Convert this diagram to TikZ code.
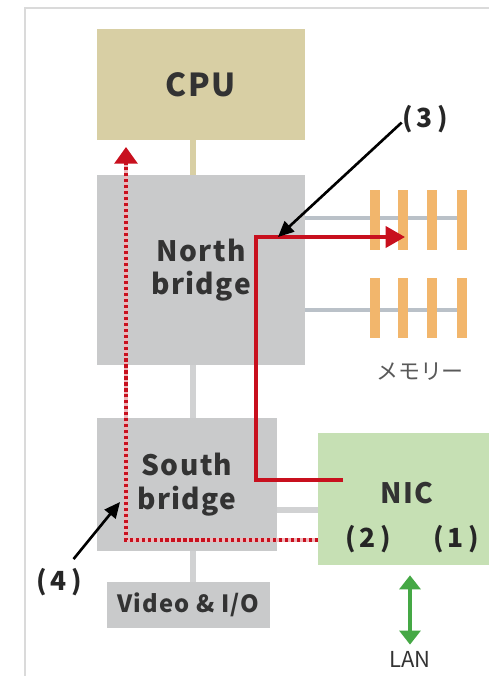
\documentclass[tikz,border=0pt]{standalone}
\usepackage{fontspec}
\setmainfont{Noto Sans CJK JP}
\newfontfamily\chipfont{Noto Sans CJK JP}[LetterSpace=5]
\usetikzlibrary{arrows.meta, positioning}

\definecolor{cputan}{HTML}{D8CFA4}
\definecolor{chipgray}{HTML}{C9CACB}
\definecolor{nicgreen}{HTML}{C6E0B4}
\definecolor{memorange}{HTML}{F2B66C}
\definecolor{busgray}{HTML}{BAC1C8}
\definecolor{pathred}{HTML}{C8101E}
\definecolor{langreen}{HTML}{45A845}
\definecolor{framegray}{HTML}{DADADA}

\tikzset{
  chip/.style={fill=chipgray, text=black!80, align=center, inner sep=0pt,
    font=\chipfont\bfseries\fontsize{16}{19}\selectfont},
  link/.style={line width=3pt, draw=chipgray!85},
  bus/.style={line width=1.8pt, draw=busgray},
  callout/.style={font=\bfseries\fontsize{15}{17}\selectfont, text=black!85, inner sep=0pt},
  pointer/.style={line width=1.5pt, -{Triangle[length=9pt,width=8pt]}},
}
\newcommand{\paren}[1]{(\hspace{2.5pt}#1\hspace{2.5pt})}

\begin{document}
\begin{tikzpicture}[x=0.02cm, y=-0.02cm]
    \useasboundingbox (0,0) rectangle (489,676);
    % outer frame
    \draw[framegray, line width=1.2pt] (25,676) -- (25,8) -- (489,8);
    % chips
    \node[chip, fill=cputan, minimum width=4.16cm, minimum height=2.22cm,
      font=\chipfont\bfseries\fontsize{18}{20}\selectfont] (cpu) at (201,84.5) {CPU};
    \node[chip, minimum width=4.16cm, minimum height=3.8cm] (nb) at (201,270) {North\\bridge};
    \node[chip, minimum width=3.6cm, minimum height=2.66cm] (sb) at (187,484.5) {South\\bridge};
    \node[chip, minimum width=3.26cm, minimum height=0.92cm,
      font=\chipfont\bfseries\fontsize{13.5}{15}\selectfont] (vio) at (188.5,605) {Video \& I/O};
    \node[chip, fill=nicgreen, minimum width=3.42cm, minimum height=2.64cm] (nicbox) at (403.5,499) {};
    \node[chip, fill=none, text=black!80] (nic) at (407,493) {NIC};
    \node[callout] (port2) at (368,539) {\paren{2}};
    \node[callout] (port1) at (456,539) {\paren{1}};
    % links between chips
    \coordinate (spine) at (193,0);
    \draw[line width=3pt, cputan] (cpu.south -| spine) -- (nb.north -| spine);
    \draw[link] (nb.south -| spine) -- (sb.north -| spine);
    \draw[link] (sb.south -| spine) -- (vio.north -| spine);
    \coordinate (sblink) at (0,510);
    \draw[link] (sb.east |- sblink) -- (nicbox.west |- sblink);
    % memory buses and modules
    \coordinate (memA) at (462,218);
    \coordinate (memB) at (462,310);
    \draw[bus] (memA -| nb.east) -- (memA);
    \draw[bus] (memB -| nb.east) -- (memB);
    \foreach \bx in {375,403,432,462} {
      \fill[memorange] ({\bx-5},190) rectangle ({\bx+5},250);
      \fill[memorange] ({\bx-5},278) rectangle ({\bx+5},338);
    }
    \node[text=black!65, font=\fontsize{12.5}{14}\selectfont, inner sep=0pt] (mem) at (420,372) {メモリー};
    % DMA path NIC -> memory
    \coordinate (nicout) at (343,480);
    \coordinate (memin) at (405,237);
    \draw[pathred, line width=2pt, -{Triangle[length=11pt,width=12pt]}] (nicout) -| (256,237) -- (memin);
    % interrupt path NIC -> CPU
    \coordinate (nicirq) at (318,540);
    \coordinate (cpuin) at (126,147);
    \draw[pathred!30, line width=2pt] (nicirq) -| ([yshift=-0.3cm]cpuin);
    \draw[pathred, line width=2pt, dash pattern=on 1.8pt off 1.6pt,
      -{Triangle[length=9.5pt,width=13pt]}] (nicirq) -| (cpuin);
    % callouts
    \node[callout] (lbl3) at (425,119) {\paren{3}};
    \coordinate (nbhit) at (278,237);
    \draw[pointer] ([yshift=-2pt]lbl3.west) -- (nbhit);
    \node[callout] (lbl4) at (59,582) {\paren{4}};
    \coordinate (sbhit) at (120,502);
    \draw[pointer] ([xshift=-5pt,yshift=5pt]lbl4.north east) -- (sbhit);
    % LAN side
    \node[text=black!80, font=\fontsize{12.5}{14}\selectfont, inner sep=0pt] (lan) at (410,659) {LAN};
    \draw[langreen, line width=1.8pt, {Triangle[length=8pt,width=12pt]}-{Triangle[length=8pt,width=12pt]}]
      ([yshift=-0.2cm]lan.north |- nicbox.south) -- ([yshift=0.12cm]lan.north);
\end{tikzpicture}
\end{document}
